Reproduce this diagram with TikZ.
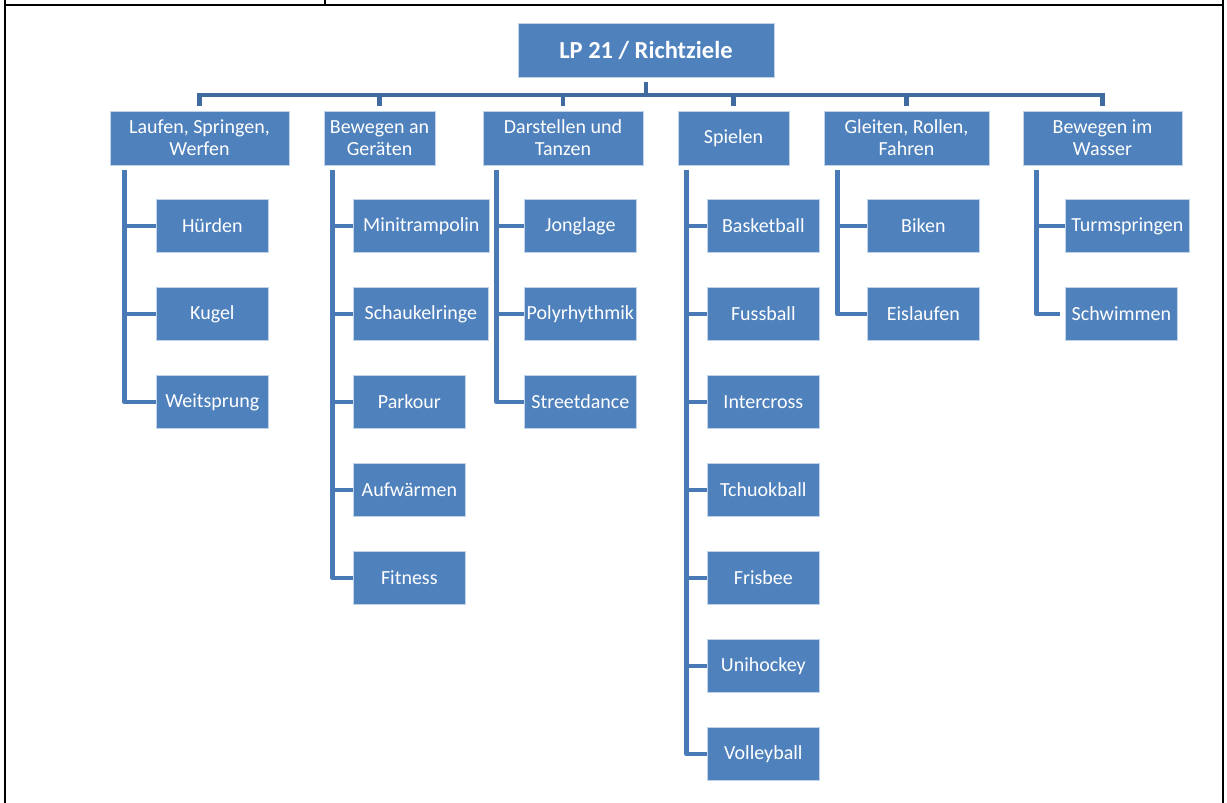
\documentclass[tikz,border=0pt]{standalone}
\usepackage{fontspec}
\setmainfont{Carlito}
\usepackage{tikz}
\usetikzlibrary{positioning}

\definecolor{boxblue}{HTML}{4F81BD}
\definecolor{busblue}{HTML}{3F6B9E}
\definecolor{trunkblue}{HTML}{4A7AB6}

\begin{document}
\begin{tikzpicture}[x=1pt, y=-1pt,
		box/.style={rectangle, fill=boxblue, draw=boxblue!35!white, line width=0.7pt,
			text=white, inner xsep=2pt, inner ysep=0pt},
		root/.style={box, minimum width=256pt, minimum height=54pt,
			font=\fontsize{24.5}{27}\selectfont\bfseries},
		topic/.style={box, minimum height=54pt, align=center,
			font=\fontsize{20}{22}\selectfont},
		goal/.style={box, minimum width=112pt, minimum height=53pt, anchor=west,
			font=\fontsize{20}{22}\selectfont},
		bus/.style={draw=busblue, line width=4.5pt, shorten <=5pt, shorten >=5pt},
		link/.style={draw=trunkblue, line width=4.5pt, line join=round, shorten >=5pt}]
			\useasboundingbox (0,0) rectangle (1227,803);

			% table frame
			\draw[line width=2pt] (5,0) -- (5,803);
			\draw[line width=2pt] (1223,0) -- (1223,803);
			\draw[line width=2pt] (4,5) -- (1224,5);
			\draw[line width=2pt] (325,0) -- (325,5);

			\node[root] (LP) at (646,50) {LP 21 / Richtziele};

			\node[topic, minimum width=179pt] (laufen) at (199.5,138) {Laufen, Springen,\\Werfen};
			\node[topic, minimum width=111pt] (geraete) at (379.5,138) {Bewegen an\\Geräten};
			\node[topic, minimum width=160pt] (darstellen) at (563,138) {Darstellen und\\Tanzen};
			\node[topic, minimum width=111pt] (spielen) at (733.5,138) {Spielen};
			\node[topic, minimum width=165pt] (gleiten) at (906.5,138) {Gleiten, Rollen,\\Fahren};
			\node[topic, minimum width=159pt] (wasser) at (1102.5,138) {Bewegen im\\Wasser};

			\node[goal] (huerden) at (156,226) {Hürden};
			\node[goal] (kugel) at (156,314) {Kugel};
			\node[goal] (weitsprung) at (156,402) {Weitsprung};

			\node[goal, minimum width=136pt] (minitramp) at (353,226) {Minitrampolin};
			\node[goal, minimum width=135pt] (ringe) at (353,314) {Schaukelringe};
			\node[goal] (parkour) at (353,402) {Parkour};
			\node[goal] (aufwaermen) at (353,490) {Aufwärmen};
			\node[goal] (fitness) at (353,578) {Fitness};

			\node[goal] (jonglage) at (524,226) {Jonglage};
			\node[goal] (poly) at (524,314) {Polyrhythmik};
			\node[goal] (street) at (524,402) {Streetdance};

			\node[goal] (basket) at (707,226) {Basketball};
			\node[goal] (fuss) at (707,314) {Fussball};
			\node[goal] (inter) at (707,402) {Intercross};
			\node[goal] (tchouk) at (707,490) {Tchuokball};
			\node[goal] (frisbee) at (707,578) {Frisbee};
			\node[goal] (uni) at (707,666) {Unihockey};
			\node[goal] (volley) at (707,754) {Volleyball};

			\node[goal] (biken) at (867,226) {Biken};
			\node[goal] (eis) at (867,314) {Eislaufen};

			\node[goal, minimum width=124pt] (turm) at (1065,226) {Turmspringen};
			\node[goal] (schwimm) at (1065,314) {Schwimmen};

			% top level bus
			\coordinate (busmid) at (646,95);
			\draw[bus, shorten >=0pt] (LP) -- (busmid);
			\draw[bus, shorten <=0pt] (busmid) -| (laufen);
			\draw[bus, shorten <=0pt] (busmid) -| (geraete);
			\draw[bus, shorten <=0pt] (busmid) -| (darstellen);
			\draw[bus, shorten <=0pt] (busmid) -| (spielen);
			\draw[bus, shorten <=0pt] (busmid) -| (gleiten);
			\draw[bus, shorten <=0pt] (busmid) -| (wasser);

			% trunks
			\coordinate (t1) at ([xshift=15pt, yshift=-5pt]laufen.south west);
			\coordinate (t2) at ([xshift=9pt, yshift=-5pt]geraete.south west);
			\coordinate (t3) at ([xshift=14pt, yshift=-5pt]darstellen.south west);
			\coordinate (t4) at ([xshift=9pt, yshift=-5pt]spielen.south west);
			\coordinate (t5) at ([xshift=14pt, yshift=-5pt]gleiten.south west);
			\coordinate (t6) at ([xshift=14pt, yshift=-5pt]wasser.south west);

			\path[link]
			(t1) |- (huerden)
			(t1) |- (kugel)
			(t1) |- (weitsprung)
			(t2) |- (minitramp)
			(t2) |- (ringe)
			(t2) |- (parkour)
			(t2) |- (aufwaermen)
			(t2) |- (fitness)
			(t3) |- (jonglage)
			(t3) |- (poly)
			(t3) |- (street)
			(t4) |- (basket)
			(t4) |- (fuss)
			(t4) |- (inter)
			(t4) |- (tchouk)
			(t4) |- (frisbee)
			(t4) |- (uni)
			(t4) |- (volley)
			(t5) |- (biken)
			(t5) |- (eis)
			(t6) |- (turm)
			(t6) |- (schwimm);
		\end{tikzpicture}
\end{document}
